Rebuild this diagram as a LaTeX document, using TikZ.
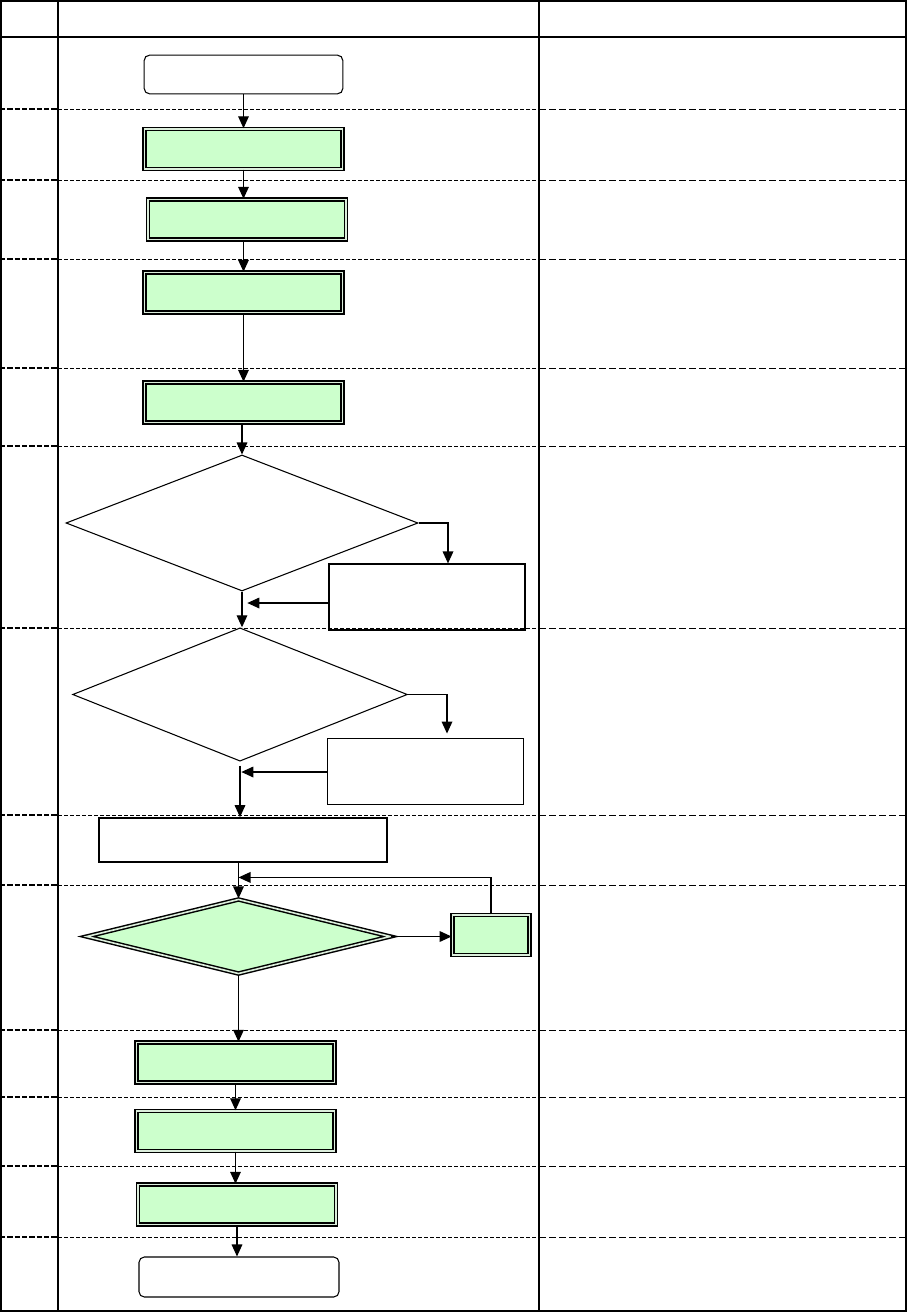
\documentclass[tikz,border=0pt]{standalone}
\usepackage{tikz}
\usetikzlibrary{shapes.geometric,arrows.meta,calc}
\definecolor{flowgreen}{HTML}{CCFFCC}
\definecolor{flowgap}{HTML}{DCEEDC}

\begin{document}
\begin{tikzpicture}[
  x=0.75pt,y=-0.75pt,
  terminal/.style={draw=black,rounded corners=4pt,line width=0.8pt,minimum width=149pt,minimum height=29pt,inner sep=0pt},
  procbox/.style={draw=black,fill=flowgreen,line width=1.1pt,double=flowgap,double distance=1.2pt,minimum width=148.5pt,minimum height=30pt,inner sep=0pt},
  decision/.style={diamond,draw=black,line width=0.8pt,inner sep=0pt},
  loopdecision/.style={diamond,draw=black,fill=flowgreen,line width=1.1pt,double=flowgap,double distance=1.2pt,inner sep=0pt},
  sidebox/.style={draw=black,line width=0.9pt,minimum width=147pt,minimum height=49.5pt,inner sep=0pt},
  rowleft/.style={line width=1.4pt,dash pattern=on 4pt off 1.5pt},
  rowmid/.style={line width=0.5pt,dash pattern=on 3pt off 1.5pt},
  rowright/.style={line width=0.7pt,dash pattern=on 5pt off 2.5pt},
  flow/.style={-{Triangle[length=9pt,width=8pt]},line width=0.9pt,draw=black}
]
  \useasboundingbox (0,0) rectangle (908,1312);
  \draw[line width=1.1pt] (0.8,0.8) rectangle (906,1311);
  \draw[line width=0.8pt] (0,37) -- (906,37);
  \draw[line width=0.8pt] (58,0) -- (58,1311);
  \draw[line width=0.8pt] (539,0) -- (539,1311);
  \foreach \ry in {109,180,259,368,446,628,815,885,1030,1097,1166,1237}{
    \draw[rowleft] (0,\ry) -- (58,\ry);
    \draw[rowmid] (58,\ry) -- (539,\ry);
    \draw[rowright] (539,\ry) -- (906,\ry);
  }

  \node[terminal] (start) at (243.5,74.5) {};
  \node[procbox] (box1) at (243.5,149) {};
  \node[procbox] (box2) at (247,219.5) {};
  \node[procbox] (box3) at (243.5,292.5) {};
  \node[procbox] (box4) at (243.5,402.5) {};
  \node[decision,minimum width=264pt,minimum height=102pt] (dec1) at (242,523) {};
  \node[sidebox] (side1) at (427,597) {};
  \node[decision,minimum width=251pt,minimum height=100pt] (dec2) at (240,694.5) {};
  \node[sidebox,line width=0.7pt] (side2) at (425,771) {};
  \node[draw=black,line width=1.3pt,minimum width=216pt,minimum height=33pt,inner sep=0pt] (wide) at (243,840) {};
  \node[loopdecision,minimum width=228pt,minimum height=56pt] (dec3) at (238.5,936.5) {};
  \node[procbox,minimum width=58pt] (small) at (491,935) {};
  \node[procbox] (box5) at (235.5,1062.5) {};
  \node[procbox] (box6) at (235.5,1131) {};
  \node[procbox] (box7) at (237,1204.5) {};
  \node[terminal,minimum width=150pt,minimum height=30pt] (finish) at (239,1277) {};

  \coordinate (drop1) at ($(side1.north)+(21,0)$);
  \coordinate (back1) at ($(side1.west)+(0,6)$);
  \coordinate (drop2) at ($(side2.north)+(22,0)$);
  \coordinate (back2) at ($(side2.west)+(0,1)$);
  \coordinate (below2) at ($(dec2.south)+(0,4)$);
  \coordinate (loopin) at ($(dec3.north)+(0,-21)$);

  \draw[flow] (start) -- (box1);
  \draw[flow] (box1.south) -- (box1.south |- box2.north);
  \draw[flow] (box3 |- box2.south) -- (box3.north);
  \draw[flow] (box3) -- (box4);
  \draw[flow] (dec1.north |- box4.south) -- (dec1.north);
  \draw[flow] (dec1.east) -| (drop1);
  \draw[flow,shorten >=4pt] (back1) -- (back1 -| dec1.south);
  \draw[flow] (dec1.south) -- (dec1.south |- dec2.north);
  \draw[flow,shorten >=3pt] (dec2.east) -| (drop2);
  \draw[flow,shorten >=1pt] (back2) -- (back2 -| dec2.south);
  \draw[flow] (below2) -- (below2 |- wide.north);
  \draw[flow] (dec3.north |- wide.south) -- (dec3.north);
  \draw[flow] (small.north) |- (loopin);
  \draw[flow] (dec3.east) -- (dec3.east -| small.west);
  \draw[flow] (dec3.south) -- (dec3.south |- box5.north);
  \draw[flow] (box5) -- (box6);
  \draw[flow] (box6.south) -- (box6.south |- box7.north);
  \draw[flow] (box7.south) -- (box7.south |- finish.north);
\end{tikzpicture}
\end{document}
